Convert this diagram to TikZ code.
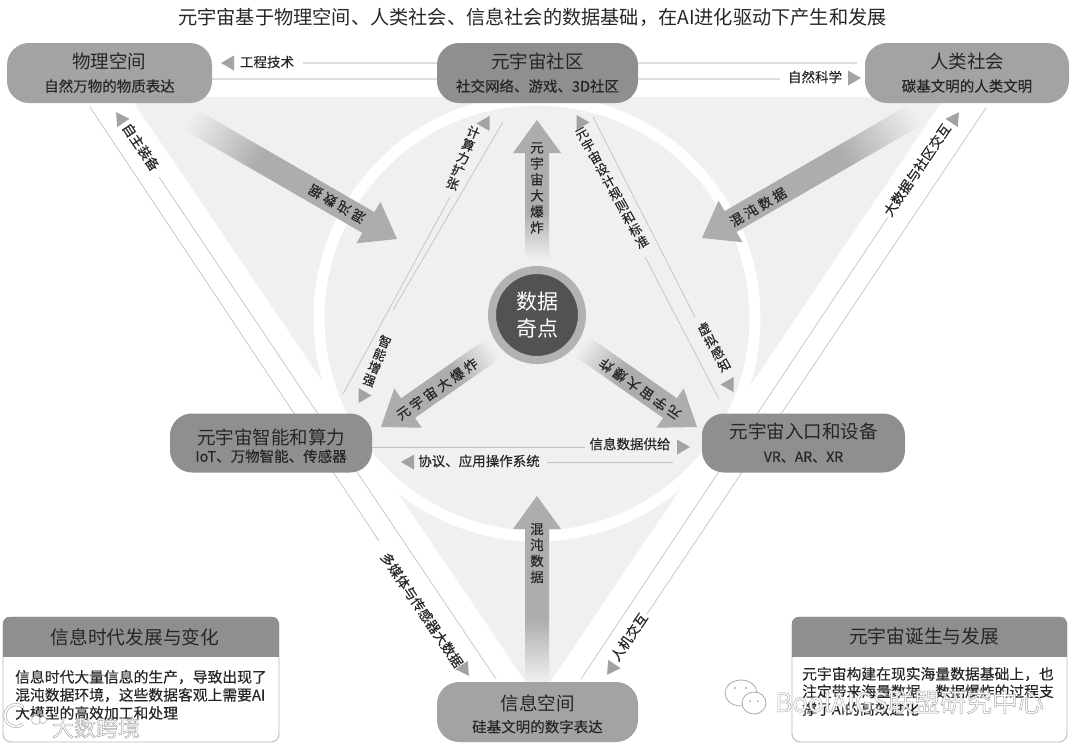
\documentclass[tikz,border=0pt]{standalone}
\usepackage{fontspec}
\setmainfont{Noto Sans CJK SC}
\newfontfamily\spacedfont[LetterSpace=22,FakeBold=0.25]{Noto Sans CJK SC}
\newfontfamily\medfont[FakeBold=0.25]{Noto Sans CJK SC}
\usetikzlibrary{calc}
\pgfdeclarelayer{under}
\pgfsetlayers{under,main}
\definecolor{bgg}{HTML}{F0F0F0}
\definecolor{arrg}{HTML}{ADADAD}
\definecolor{pilla}{HTML}{A3A3A3}
\definecolor{pillb}{HTML}{8F8F8F}
\definecolor{ink}{HTML}{262626}
\definecolor{wm}{HTML}{A8A8A8}
\pgfdeclarehorizontalshading{fadearrow}{100bp}{color(0bp)=(bgg); color(25bp)=(bgg); color(42bp)=(arrg); color(100bp)=(arrg)}
\newcommand\fz[2]{\fontsize{#1}{#2}\selectfont}
\newcommand\wmtext[1]{\special{pdf:code q 2 Tr 0.5 w 0.66 0.66 0.66 RG 1 1 1 rg}#1\special{pdf:code Q}}
\tikzset{
  pillbox/.style={rectangle,rounded corners=22pt,minimum height=60pt,inner sep=0pt,align=center,text=ink},
  hline/.style={draw=black!13,line width=1.1pt},
  dline/.style={draw=black!24,line width=0.7pt},
  lab/.style={inner sep=0pt,text=ink,font=\medfont\fz{13.5}{15}},
  stacklab/.style={inner sep=0pt,text=ink,align=center,font=\medfont\fz{12.8}{13.8}},
  tipfill/.style={fill=black!36},
  panel/.style={rectangle,rounded corners=8pt,draw=black!28,line width=0.9pt,fill=white,inner sep=0pt},
  head/.style={inner sep=0pt,text=ink,font=\fz{18.7}{20}},
  body/.style={inner sep=0pt,anchor=west,text=ink,font=\medfont\fz{14.8}{17}},
}
\newcommand\smalltip[3]{\fill[tipfill,shift={(#1,#2)},rotate=#3] (7,0) -- (-6,-7.5) -- (-6,7.5) -- cycle;}
% tip x, tip y, direction, length
\newcommand\bigarrow[4]{%
  \shade[shading=fadearrow,transform canvas={shift={(#1,#2)},rotate=#3}]
    (0,0) -- (-33,-24) -- (-33,-12) -- (-#4,-12) -- (-#4,12) -- (-33,12) -- (-33,24) -- cycle;}
\begin{document}
\begin{tikzpicture}[x=1pt,y=-1pt]
\useasboundingbox (0,0) rectangle (1080,748);

% nodes
\node[pillbox,fill=pilla,minimum width=205pt] (phys) at (109.5,73)
  {\fz{18.5}{22}物理空间\\[8pt]\medfont\fz{14.5}{18}自然万物的物质表达};
\node[pillbox,fill=pillb,minimum width=201pt] (comm) at (537.5,73)
  {\fz{18.5}{22}元宇宙社区\\[8pt]\medfont\fz{14.5}{18}社交网络、游戏、3D社区};
\node[pillbox,fill=pilla,minimum width=204pt] (human) at (967,73)
  {\fz{18.5}{22}人类社会\\[8pt]\medfont\fz{14.5}{18}碳基文明的人类文明};
\node[pillbox,fill=pillb,minimum width=202pt,minimum height=59pt] (smart) at (271,443)
  {\fz{18.5}{21}元宇宙智能和算力\\[2pt]\medfont\fz{14.5}{17}IoT、万物智能、传感器\\[-17pt]\mbox{}};
\node[pillbox,fill=pillb,minimum width=203pt,minimum height=59pt] (entry) at (803.5,443)
  {\fz{18.5}{22}元宇宙入口和设备\\[11pt]\medfont\fz{14}{17}VR、AR、XR};
\node[pillbox,fill=pilla,minimum width=201pt] (info) at (537.5,712)
  {\fz{18.5}{22}信息空间\\[7pt]\medfont\fz{14.5}{18}硅基文明的数字表达\\[-15pt]\mbox{}};
\node[circle,fill=black!68,draw=black!30,line width=8pt,minimum size=90pt,inner sep=0pt,align=center,text=white,font=\fz{21}{26.5}] (core) at (537,315) {数据\\奇点};

% free ends of the connectors
\coordinate (t1) at (303,63);  \coordinate (t2) at (214,79);
\coordinate (t3) at (857,63);  \coordinate (t4) at (780,79);
\coordinate (m1) at (585,447); \coordinate (m2) at (547,462); \coordinate (m3) at (673,462);
\coordinate (l1) at (90,107);  \coordinate (l2) at (379,541);
\coordinate (l3) at (159,177); \coordinate (l4) at (496,679);
\coordinate (r1) at (986,108); \coordinate (r2) at (647,614);
\coordinate (r3) at (888,217); \coordinate (r4) at (581,679);
\coordinate (c1) at (503,122); \coordinate (c2) at (393,310);
\coordinate (c3) at (450,197); \coordinate (c4) at (343,394);
\coordinate (d1) at (593,117); \coordinate (d2) at (695,317);
\coordinate (d3) at (645,257); \coordinate (d4) at (719,399);

\begin{pgfonlayer}{under}
  \fill[bgg] (130,97) -- (945,97) -- (538,700) -- cycle;
  \fill[bgg] (537,318) circle[radius=218];
  \draw[white,line width=11pt] (537,318) circle[radius=218];
  % big arrows
  \bigarrow{537}{120}{90}{140}
  \bigarrow{537}{496}{90}{186}
  \bigarrow{397}{239}{-30}{240}
  \bigarrow{702}{238}{210}{247}
  \bigarrow{381}{427}{215}{137}
  \bigarrow{697}{427}{-35}{142}
  % connectors
  \draw[hline] (t1) -- (comm.west |- t1);
  \draw[hline] (phys.east |- t2) -- (comm.west |- t2);
  \draw[hline] (comm.east |- t3) -- (t3);
  \draw[hline] (comm.east |- t4) -- (t4);
  \draw[dline] (smart.east |- m1) -- (m1);
  \draw[dline] (m2) -- (m3);
  \draw[dline] (l1) -- (l2);
  \draw[dline] (l3) -- (l4);
  \draw[dline] (r1) -- (r2);
  \draw[dline] (r3) -- (r4);
  \draw[dline] (c1) -- (c2);
  \draw[dline] (c3) -- (c4);
  \draw[dline] (d1) -- (d2);
  \draw[dline] (d3) -- (d4);
\end{pgfonlayer}

% small arrow heads
\smalltip{228}{63}{180}
\smalltip{854}{78}{0}
\smalltip{683}{447}{0}
\smalltip{408}{462}{180}
\smalltip{120}{118}{124}
\smalltip{955}{118}{56}
\smalltip{486}{122}{60}
\smalltip{580}{121}{120}
\smalltip{362}{397}{240}
\smalltip{730}{386}{-60}
\smalltip{465}{670}{-56}
\smalltip{611}{669}{236}

% title
\node[inner sep=0pt,text=ink,font=\fz{19.2}{20}] (title) at (532.5,17) {元宇宙基于物理空间、人类社会、信息社会的数据基础，在AI进化驱动下产生和发展};

% labels on horizontal connectors
\node[lab] (lb1) at (267,62) {工程技术};
\node[lab] (lb2) at (815,77) {自然科学};
\node[lab] (lb3) at (630,444) {信息数据供给};
\node[lab] (lb4) at (479,461) {协议、应用操作系统};

% labels on slanted connectors
\node[lab,rotate=-56] (lb5) at (141,147) {自主装备};
\node[lab,rotate=56] (lb6) at (917,170) {大数据与社区交互};
\node[lab,rotate=-56] (lb7) at (422,610) {多媒体与传感器大数据};
\node[lab,rotate=56] (lb8) at (629,637) {人机交互};
\node[stacklab,rotate=-22] (lb9) at (463,158) {计\\算\\力\\扩\\张};
\node[stacklab,rotate=-22] (lb10) at (377,361) {智\\能\\增\\强};
\node[stacklab,rotate=29] (lb11) at (612,188) {元\\宇\\宙\\设\\计\\规\\则\\和\\标\\准};
\node[stacklab,rotate=29] (lb12) at (714,347) {虚\\拟\\感\\知};

% labels on big arrows
\node[inner sep=0pt,text=ink,align=center,font=\medfont\fz{13.5}{16}] (ba1) at (537,188) {元\\宇\\宙\\大\\爆\\炸};
\node[inner sep=0pt,text=ink,align=center,font=\medfont\fz{13.5}{16}] (ba2) at (537,553) {混\\沌\\数\\据};
\node[inner sep=0pt,text=ink,rotate=150,font=\spacedfont\fz{13.5}{16}] (ba3) at (337,204) {混沌数据};
\node[inner sep=0pt,text=ink,rotate=30,font=\spacedfont\fz{13.5}{16}] (ba4) at (758,207) {混沌数据};
\node[inner sep=0pt,text=ink,rotate=35,font=\spacedfont\fz{13.5}{16}] (ba5) at (437,389) {元宇宙大爆炸};
\node[inner sep=0pt,text=ink,rotate=145,font=\spacedfont\fz{13.5}{16}] (ba6) at (640,389) {元宇宙大爆炸};

% panels
\node[panel,minimum width=276pt,minimum height=125pt] (lbox) at (141,679.5) {};
\begin{scope}
  \clip[rounded corners=8pt] (lbox.north west) rectangle (lbox.south east);
  \fill[pillb] (lbox.north west) rectangle ($(lbox.north east)+(0,40)$);
\end{scope}
\node[panel,minimum width=275pt,minimum height=125pt] (rbox) at (929.5,679.5) {};
\begin{scope}
  \clip[rounded corners=8pt] (rbox.north west) rectangle (rbox.south east);
  \fill[pillb] (rbox.north west) rectangle ($(rbox.north east)+(0,40)$);
\end{scope}
\node[head] (lh) at (135,637) {信息时代发展与变化};
\node[head] (rh) at (924,636) {元宇宙诞生与发展};
\node[body] (lb1a) at (15,677) {信息时代大量信息的生产，导致出现了};
\node[body] (lb1b) at (15,695) {混沌数据环境，这些数据客观上需要AI};
\node[body] (lb1c) at (15,713) {大模型的高效加工和处理};
\node[body] (rb1a) at (802,674) {元宇宙构建在现实海量数据基础上，也};
\node[body] (rb1b) at (802,691.5) {注定带来海量数据，数据爆炸的过程支};
\node[body] (rb1c) at (802,709) {撑了AI的高效进化};

% watermarks
\draw[wm,line width=3pt] (23,724) arc[start angle=50,end angle=310,radius=11];
\draw[white,line width=1.8pt] (23,724) arc[start angle=50,end angle=310,radius=11];
\draw[wm,fill=white,line width=0.5pt] (36,720) circle[radius=4.5];
\draw[wm,fill=white,line width=0.5pt] (43,720) circle[radius=3.5];
\node[inner sep=0pt,font=\fz{22}{24}] (wm1) at (96,728) {\wmtext{大数跨境}};
\draw[wm,fill=white,line width=0.8pt] (741,693) ellipse[x radius=16,y radius=13];
\draw[wm,fill=white,line width=0.8pt] (754,703) ellipse[x radius=12,y radius=11];
\fill[wm] (735,688) circle[radius=1.2] (746,688) circle[radius=1.2] (750,701) circle[radius=1] (758,701) circle[radius=1];
\node[inner sep=0pt,anchor=west,font=\fz{26}{28}] (wm2) at (775,702) {\wmtext{BoolAIGS联盟研究中心}};
\end{tikzpicture}
\end{document}
